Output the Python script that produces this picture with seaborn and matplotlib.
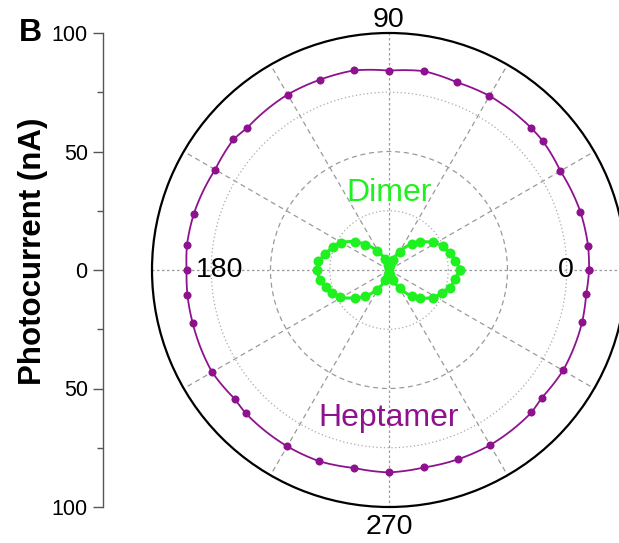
import numpy as np
import matplotlib
matplotlib.use("Agg")
import matplotlib.pyplot as plt
import seaborn as sns

sns.set_style("white")
plt.rcParams["font.family"] = ["Liberation Sans", "DejaVu Sans"]
plt.rcParams["text.color"] = "black"
plt.rcParams["ytick.labelcolor"] = "black"
plt.rcParams["xtick.labelcolor"] = "black"

# Polarization angle (deg) and photocurrent (nA) for the two structures
hept_angle = [0, 7, 17, 30, 40, 45, 60, 70, 80, 90, 100, 110, 120, 135, 140, 150,
              164, 173, 180, 187, 195, 210, 220, 225, 240, 250, 260, 270, 280, 290,
              300, 315, 320, 330, 345, 353]
hept_current = [84.4, 84.6, 84.4, 83.5, 84.7, 84.8, 84.8, 84.2, 85.2, 84.1, 85.5, 85.4,
                85.5, 84.7, 85.7, 84.7, 85.7, 85.9, 85.4, 85.7, 85.8, 86.2, 84.8, 85.5,
                85.9, 85.9, 84.8, 85.4, 84.6, 85.0, 85.3, 85.0, 84.0, 84.8, 84.4, 83.8]

dimer_angle = [0, 8, 16, 24, 32, 42, 49, 60, 70, 80, 90, 100, 110, 122, 133, 140, 150,
               158, 166, 173, 180, 188, 195, 202, 209, 219, 228, 238, 250, 260, 270,
               280, 290, 301, 311, 318, 328, 336, 344, 352]
dimer_current = [30.0, 28.3, 26.6, 24.8, 22.0, 17.6, 14.6, 9.0, 4.5, 2.0, 1.0, 2.2, 4.8,
                 9.7, 14.7, 18.6, 23.2, 25.6, 27.8, 30.0, 30.5, 29.4, 27.7, 25.8, 23.7,
                 18.6, 15.0, 9.8, 4.6, 2.1, 1.0, 2.3, 4.6, 8.9, 14.7, 17.6, 21.9, 24.3,
                 26.8, 28.0]

axis_ticks = [-100, -50, 0, 50, 100]
axis_ticklabels = ["100", "50", "0", "50", "100"]

PURPLE = "#8E128E"
GREEN = "#1FF01F"

W, H = 619, 543
fig = plt.figure(figsize=(W / 100, H / 100), dpi=100)

cx, cy, R = 389, 273, 237  # polar centre (from bottom) and radius in pixels
box = [(cx - R) / W, (cy - R) / H, 2 * R / W, 2 * R / H]

# ---- left linear scale ----
axl = fig.add_axes([103 / W, box[1], 0.001, box[3]])
axl.set_ylim(-100, 100)
axl.set_yticks(axis_ticks)
axl.set_yticklabels(axis_ticklabels)
axl.set_yticks([-75, -25, 25, 75], minor=True)
axl.set_xticks([])
for s in ["top", "right", "bottom"]:
    axl.spines[s].set_visible(False)
axl.spines["left"].set_color("#555555")
axl.spines["left"].set_linewidth(1.0)
axl.tick_params(axis="y", which="major", direction="out", length=7, width=1.0,
                color="#555555", labelcolor="black", labelsize=15.5, pad=4, left=True)
axl.tick_params(axis="y", which="minor", direction="out", length=4, width=1.0,
                color="#555555", left=True)
axl.patch.set_visible(False)

fig.text(33 / W, 1 - 251 / H, "Photocurrent (nA)", rotation=90, ha="center",
         va="center", fontsize=22.5, fontweight="bold")
fig.text(19 / W, 1 - 33 / H, "B", ha="left", va="center", fontsize=23,
         fontweight="bold")

# ---- polar plot ----
ax = fig.add_axes(box, projection="polar")
ax.set_ylim(0, 100)

h_th = np.deg2rad(np.append(hept_angle, hept_angle[0] + 360))
h_r = np.append(hept_current, hept_current[0])
d_th = np.deg2rad(np.append(dimer_angle, dimer_angle[0] + 360))
d_r = np.append(dimer_current, dimer_current[0])

sns.lineplot(x=h_th, y=h_r, ax=ax, color=PURPLE, lw=1.3, marker="o",
             markersize=5.8, markeredgewidth=0, sort=False, zorder=4)
sns.lineplot(x=d_th, y=d_r, ax=ax, color=GREEN, lw=2.2, marker="o",
             markersize=7.2, markeredgewidth=0, sort=False, zorder=5)
ax.set_xlabel("")
ax.set_ylabel("")
# connect the points along curved polar segments instead of chords
for ln in ax.lines:
    ln.get_path()._interpolation_steps = 24

# angular ticks: major every 30 deg, minor at 15 deg
ax.set_xticks(np.deg2rad(np.arange(0, 360, 30)))
ax.set_xticklabels([])
ax.set_xticks(np.deg2rad(np.arange(15, 360, 30)), minor=True)
ax.tick_params(axis="x", which="major", direction="in", length=9, width=1.2,
               color="black", pad=0)
ax.tick_params(axis="x", which="minor", direction="in", length=5, width=1.2,
               color="black")
ax.set_yticks([25, 50, 75])
ax.set_yticklabels([])
ax.tick_params(axis="y", length=0)

ax.grid(True, which="major", color="#9a9a9a", lw=0.9)
for tick in ax.xaxis.get_major_ticks():
    deg = int(round(np.rad2deg(tick.get_loc()))) % 360
    tick.gridline.set_linestyle((0, (2, 2)) if deg % 90 == 0 else (0, (4, 3)))
for tick in ax.yaxis.get_major_ticks():
    r = tick.get_loc()
    tick.gridline.set_linestyle((0, (4, 3)) if r == 50 else (0, (1, 2)))
    tick.gridline.set_color("#aaaaaa" if r != 50 else "#9a9a9a")

ax.spines["polar"].set_color("black")
ax.spines["polar"].set_linewidth(1.6)

# angle labels
lab_kw = dict(ha="center", va="center", fontsize=20.5, color="black")
ax.text(np.deg2rad(0), 74.5, "0", **lab_kw)
ax.text(np.deg2rad(180), 71.5, "180", **lab_kw)
ax.text(np.deg2rad(90), 105.5, "90", **lab_kw)
ax.text(np.deg2rad(270), 108.5, "270", **lab_kw)

ax.text(np.deg2rad(90), 32.5, "Dimer", ha="center", va="center", fontsize=23,
        color=GREEN)
ax.text(np.deg2rad(270), 62.5, "Heptamer", ha="center", va="center", fontsize=23,
        color=PURPLE)

fig.savefig("out.png", dpi=100)
